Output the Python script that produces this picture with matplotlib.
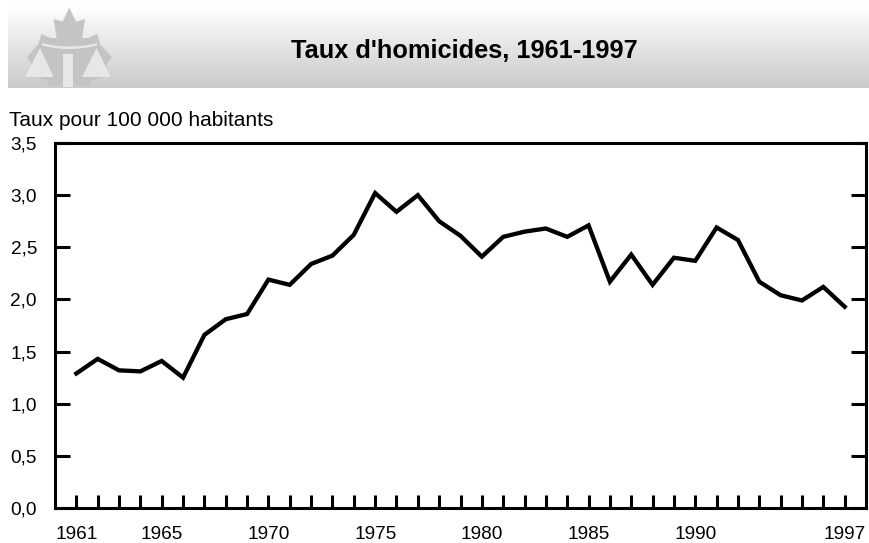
import matplotlib
matplotlib.use("Agg")
import matplotlib.pyplot as plt
import numpy as np
from matplotlib.patches import Polygon

plt.rcParams['font.family'] = ['Liberation Sans', 'DejaVu Sans']

# homicide rate per 100 000
years = list(range(1961, 1998))
rates = [1.29, 1.43, 1.32, 1.31, 1.41, 1.25, 1.66, 1.81, 1.86, 2.19,
         2.14, 2.34, 2.42, 2.62, 3.02, 2.84, 3.00, 2.75, 2.61, 2.41,
         2.60, 2.65, 2.68, 2.60, 2.71, 2.17, 2.43, 2.14, 2.40, 2.37,
         2.69, 2.57, 2.17, 2.04, 1.99, 2.12, 1.93]
label_years = [1961, 1965, 1970, 1975, 1980, 1985, 1990, 1997]
big_ticks = [1965, 1970, 1975, 1980, 1985, 1990, 1995]
y_ticks = [0.0, 0.5, 1.0, 1.5, 2.0, 2.5, 3.0, 3.5]

title = "Taux d'homicides, 1961-1997"
ylab = "Taux pour 100 000 habitants"

W, H = 870, 543
fig = plt.figure(figsize=(W / 100, H / 100), dpi=100)

# banner with gradient + logo, drawn in pixel coords
bg = fig.add_axes([0, 0, 1, 1])
bg.set_xlim(0, W)
bg.set_ylim(H, 0)
bg.axis('off')
grad = np.linspace(1.0, 0.79, 200).reshape(-1, 1)
bg.imshow(grad, cmap='gray', vmin=0, vmax=1, extent=[8, W, 88, 5],
          aspect='auto', interpolation='bilinear')

cx = 69.3
half = [(69.3, 7.5), (76, 21.7), (85, 19), (82, 38), (88, 38), (97.3, 34),
        (100, 44), (111.7, 57), (106, 66), (108, 76), (92, 80), (90, 86), (72, 86)]
leaf = half + [(2 * cx - x, y) for x, y in reversed(half)]
bg.add_patch(Polygon(leaf, closed=True, fc='#c4c4c4', ec='none'))
lite = '#e7e7e7'
bg.add_patch(Polygon([(40, 48), (25, 77), (53.5, 77)], fc=lite, ec='none'))
bg.add_patch(Polygon([(96.7, 48), (82, 77), (110.5, 77)], fc=lite, ec='none'))
bg.add_patch(Polygon([(63.5, 54), (73.5, 54), (73.5, 87), (63.5, 87)], fc=lite, ec='none'))
arc_x = np.linspace(42, 97, 30)
arc_y = 43 + 3.5 * (1 - ((arc_x - 69.5) / 27.5) ** 2)
bg.add_patch(Polygon(list(zip(arc_x, arc_y)) + list(zip(arc_x[::-1], arc_y[::-1] + 2.5)),
                     fc=lite, ec='none'))

fig.text(464 / W, 1 - 51 / H, title, ha='center', va='center',
         fontsize=18.3, fontweight='bold')
fig.text(9 / W, 1 - 120 / H, ylab, ha='left', va='center', fontsize=15)

ax = fig.add_axes([55 / W, 35 / H, 811 / W, 365 / H])
ax.plot(years, rates, color='black', lw=3.1, solid_joinstyle='miter')

ax.set_xlim(1960, 1998)
ax.set_ylim(0, 3.5)

ax.set_xticks(years)
ax.set_xticklabels([str(y) if y in label_years else '' for y in years])
ax.set_xticks(big_ticks, minor=True)
ax.tick_params(axis='x', which='major', direction='in', length=9.5, width=2.2,
               pad=13, labelsize=13.7, top=False)
ax.tick_params(axis='x', which='minor', direction='in', length=17.5, width=2.2,
               top=False)

ax.set_yticks(y_ticks)
ax.set_yticklabels([f"{v:.1f}".replace('.', ',') for v in y_ticks])
ax.tick_params(axis='y', direction='in', length=11, width=2.2, pad=13,
               labelsize=13.7, right=True)

for s in ax.spines.values():
    s.set_linewidth(2.2)

fig.savefig("out.png", dpi=100)
